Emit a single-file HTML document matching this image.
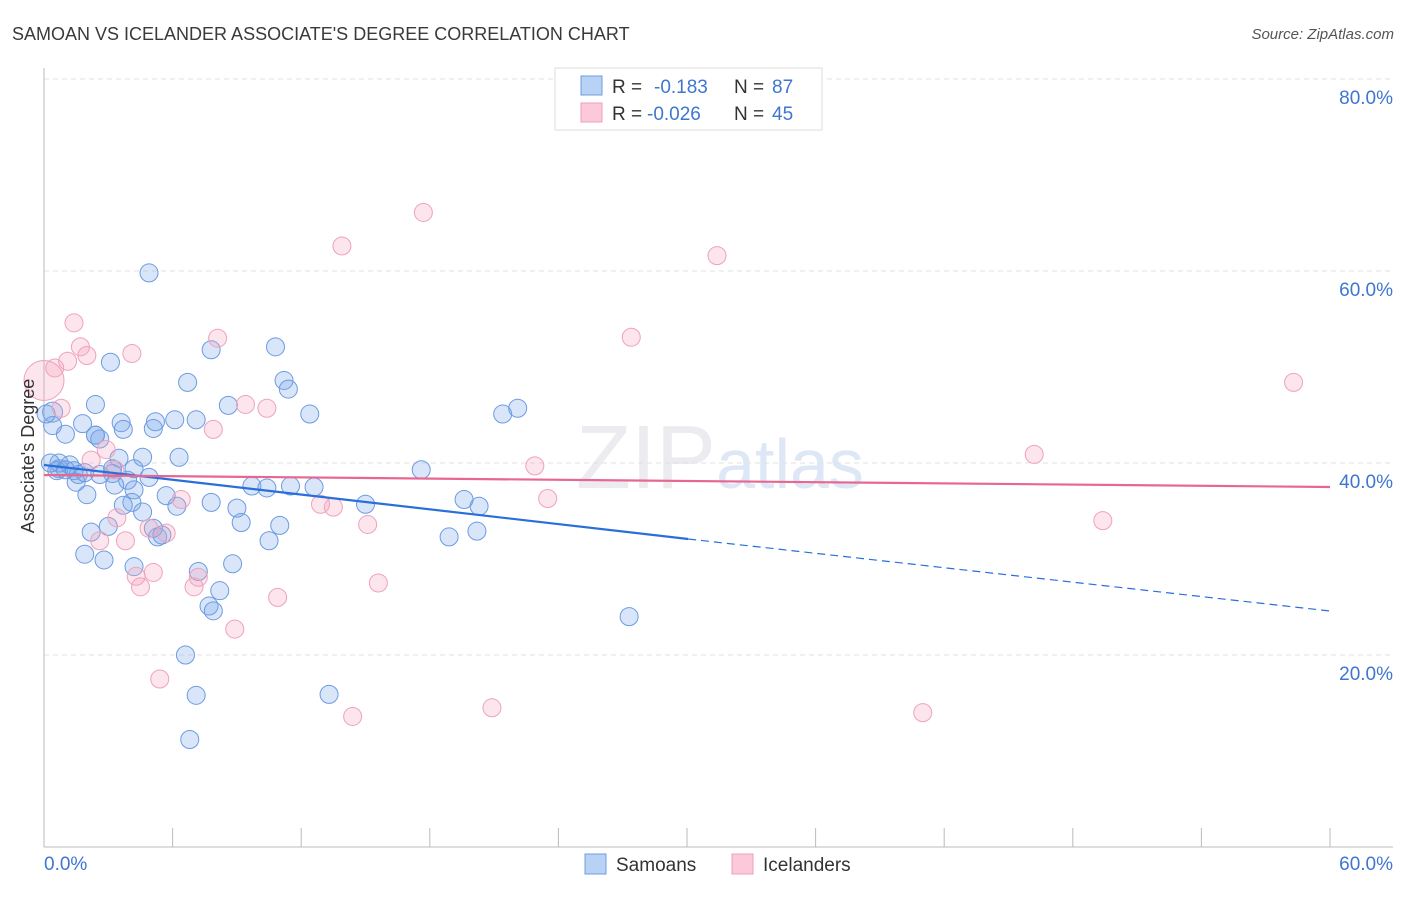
<!DOCTYPE html>
<html><head><meta charset="utf-8"><style>
body{margin:0;background:#fff;font-family:"Liberation Sans",sans-serif;}
svg text{font-family:"Liberation Sans",sans-serif;}
</style></head><body>
<svg id="chart" width="1406" height="892" viewBox="0 0 1406 892">
<text x="12" y="40" font-size="18" fill="#3a3a3a">SAMOAN VS ICELANDER ASSOCIATE'S DEGREE CORRELATION CHART</text>
<text x="1394" y="39" font-size="15" fill="#555" font-style="italic" text-anchor="end">Source: ZipAtlas.com</text>
<text x="720" y="488" font-size="90" fill="#ebebf0" text-anchor="middle" font-family="Liberation Serif">ZIP<tspan font-family="Liberation Sans" font-size="70" fill="#dde7f5">atlas</tspan></text>
<g id="grid"></g>
<g id="axes"></g>
<g id="pts"></g>
<g id="lines"></g>
<text transform="translate(34,456) rotate(-90)" font-size="18" fill="#333" text-anchor="middle">Associate's Degree</text>
<g>
<rect x="555" y="68" width="267" height="62" fill="#fff" stroke="#ddd"/>
<rect x="581" y="76" width="21" height="19" fill="#b8d2f5" stroke="#6d9de0"/>
<rect x="581" y="103" width="21" height="19" fill="#fbc9d9" stroke="#ef9fb8"/>
<text x="612" y="93" font-size="19" fill="#333">R = <tspan x="654" fill="#3f76d0">-0.183</tspan><tspan x="734" fill="#333">N = </tspan><tspan x="772" fill="#3f76d0">87</tspan></text>
<text x="612" y="120" font-size="19" fill="#333">R = <tspan x="647" fill="#3f76d0">-0.026</tspan><tspan x="734" fill="#333">N = </tspan><tspan x="772" fill="#3f76d0">45</tspan></text>
</g>
<g>
<rect x="585" y="854" width="21" height="20" fill="#b8d2f5" stroke="#6d9de0"/>
<text x="616" y="871" font-size="19" fill="#333">Samoans</text>
<rect x="732" y="854" width="21" height="20" fill="#fbc9d9" stroke="#ef9fb8"/>
<text x="763" y="871" font-size="19" fill="#333">Icelanders</text>
</g>
</svg>
<script>
const yTicks=[20,40,60,80];
const yTickLabels=["20.0%","40.0%","60.0%","80.0%"];
const xTicks=[0,6,12,18,24,30,36,42,48,54,60];
const samoanX=[4.9,3.1,7.8,10.8,6.7,11.2,11.4,8.6,12.4,2.4,0.4,1.8,3.6,5.2,6.1,7.1,3.7,5.1,1.0,2.4,2.6,0.4,6.3,4.6,3.5,3.2,1.2,0.7,1.4,1.6,0.6,3.2,3.9,3.3,4.2,2.0,5.7,7.8,4.1,3.7,6.2,4.6,9.0,9.2,9.7,10.4,11.5,12.6,15.0,17.6,19.6,20.3,21.4,22.1,11.0,10.5,18.9,20.2,2.2,3.0,5.1,5.3,5.5,1.9,2.8,4.2,7.2,8.8,8.2,7.7,7.9,27.3,6.6,7.1,13.3,6.8,0.7,1.0,1.5,2.4,0.1,0.3,1.9,4.2,4.9,2.6];
const samoanY=[59.8,50.5,51.8,52.1,48.4,48.6,47.7,46.0,45.1,46.1,45.3,44.1,44.2,44.3,44.5,44.5,43.5,43.6,43.0,42.9,42.5,43.9,40.6,40.6,40.5,39.4,39.8,39.4,39.2,38.8,39.2,38.9,38.2,37.7,37.2,36.7,36.6,35.9,35.9,35.6,35.5,34.9,35.3,33.8,37.6,37.4,37.6,37.5,35.7,39.3,36.2,35.5,45.1,45.7,33.5,31.9,32.3,32.9,32.8,33.4,33.2,32.3,32.5,30.5,29.9,29.2,28.7,29.5,26.7,25.1,24.6,24.0,20.0,15.8,15.9,11.2,40.0,39.3,38.0,42.9,45.1,40.0,39.0,39.4,38.5,38.8];
const icelanderX=[17.7,13.9,31.4,1.4,27.4,4.1,1.7,2.0,1.1,0.5,0.0,58.3,8.1,9.4,10.4,0.8,7.9,46.2,22.9,2.2,2.9,3.3,6.4,12.9,13.5,23.5,15.1,49.4,3.4,4.9,5.7,2.6,3.8,4.3,5.1,4.5,7.2,7.0,15.6,10.9,8.9,5.4,14.4,20.9,41.0];
const icelanderY=[66.1,62.6,61.6,54.6,53.1,51.4,52.1,51.2,50.6,49.9,48.6,48.4,53.0,46.1,45.7,45.7,43.5,40.9,39.7,40.3,41.4,39.3,36.2,35.7,35.4,36.3,33.6,34.0,34.3,33.2,32.7,31.9,31.9,28.2,28.6,27.1,28.1,27.1,27.5,26.0,22.7,17.5,13.6,14.5,14.0];
const bigIdx=10;
const X=v=>44+v*(1330-44)/60, Y=v=>847-v*(847-79)/80;
const NS='http://www.w3.org/2000/svg';
function mk(t,a,p){const e=document.createElementNS(NS,t);for(const k in a)e.setAttribute(k,a[k]);p.appendChild(e);return e;}
const grid=document.getElementById('grid'),axes=document.getElementById('axes'),pts=document.getElementById('pts'),lines=document.getElementById('lines');
yTicks.forEach((v,i)=>{
 const g=mk('line',{x1:44,x2:1393,y1:Y(v),y2:Y(v),stroke:'#e2e2e2','stroke-dasharray':'5,4'},grid);
 
 
 const t=mk('text',{x:1393,y:Y(v)+25,'font-size':19,fill:'#3f76d0','text-anchor':'end'},axes);
 t.textContent=yTickLabels[i];
 
 
});
mk('line',{x1:44,x2:44,y1:68,y2:847,stroke:'#bbb'},axes);
mk('line',{x1:44,x2:1393,y1:847,y2:847,stroke:'#bbb'},axes);
xTicks.forEach(v=>{const l=mk('line',{x1:X(v),x2:X(v),y1:828,y2:847,stroke:'#bbb'},axes);
 
 });
let t0=mk('text',{x:44,y:870,'font-size':19,fill:'#3f76d0'},axes);t0.textContent='0.0%';


let t1=mk('text',{x:1393,y:870,'font-size':19,fill:'#3f76d0','text-anchor':'end'},axes);t1.textContent='60.0%';


samoanX.forEach((v,i)=>{const c=mk('circle',{cx:X(v),cy:Y(samoanY[i]),r:(i==bigIdx?10:9),fill:'rgba(120,165,235,0.28)',stroke:'#6c9be2','stroke-width':1},pts);
 
 });
icelanderX.forEach((v,i)=>{const c=mk('circle',{cx:X(v),cy:Y(icelanderY[i]),r:(i==bigIdx?20:9),fill:'rgba(245,160,188,0.28)',stroke:'#efa2bb','stroke-width':1},pts);
 
 });
const bl=mk('line',{x1:X(0),y1:465,x2:X(30.05),y2:539,stroke:'#2a6fd9','stroke-width':2.2},lines);


const bd=mk('line',{x1:X(30.05),y1:539,x2:X(60),y2:611,stroke:'#2a6fd9','stroke-width':1.2,'stroke-dasharray':'8,5'},lines);


const pl=mk('line',{x1:X(0),y1:475,x2:X(60),y2:487,stroke:'#e86792','stroke-width':2.2},lines);


</script>
</body></html>
